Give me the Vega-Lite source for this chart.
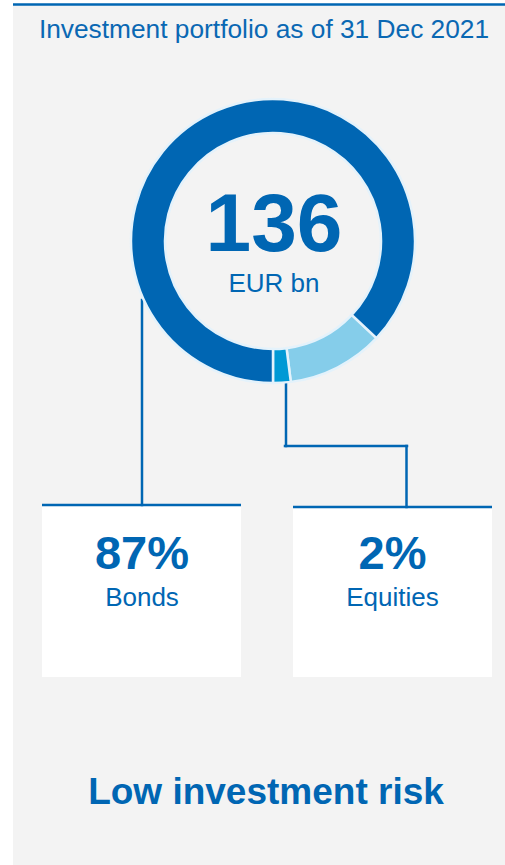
{
  "$schema": "https://vega.github.io/schema/vega-lite/v6.json",
  "width": 505,
  "height": 865,
  "padding": 0,
  "autosize": "none",
  "background": "#ffffff",
  "config": {"view": {"stroke": null}, "font": "Liberation Sans"},
  "datasets": {
    "panel": [{"x": 13, "x2": 505, "y": 5, "y2": 865}],
    "topline": [{"x": 13, "x2": 505, "y": 4.5}],
    "boxes": [
      {"category": "Bonds", "pct": "87%", "x": 42, "x2": 241, "y": 505, "y2": 677, "cx": 142, "py": 569, "ny": 606},
      {"category": "Equities", "pct": "2%", "x": 293, "x2": 492, "y": 507, "y2": 677, "cx": 392.5, "py": 569, "ny": 606}
    ],
    "connectors": [
      {"x": 142, "y": 300, "x2": 142, "y2": 505},
      {"x": 286, "y": 380, "x2": 286, "y2": 446},
      {"x": 285, "y": 446, "x2": 407, "y2": 446},
      {"x": 406.5, "y": 446, "x2": 406.5, "y2": 507}
    ],
    "segments": [
      {"segment": "Other", "share": 11, "rank": 1, "cx": 273, "cy": 241},
      {"segment": "Equities", "share": 2, "rank": 2, "cx": 273, "cy": 241},
      {"segment": "Bonds", "share": 87, "rank": 3, "cx": 273, "cy": 241}
    ],
    "title": [{"text": "Investment portfolio as of 31 Dec 2021", "x": 264, "y": 38}],
    "total": [{"value": "136", "unit": "EUR bn", "x": 274, "y": 251, "uy": 292}],
    "footer": [{"text": "Low investment risk", "x": 266, "y": 804}]
  },
  "layer": [
    {
      "data": {"name": "panel"},
      "mark": {"type": "rect", "fill": "#f3f3f3"},
      "encoding": {
        "x": {"field": "x", "type": "quantitative", "scale": {"domain": [0, 505], "nice": false, "zero": false}, "axis": null},
        "x2": {"field": "x2"},
        "y": {"field": "y", "type": "quantitative", "scale": {"domain": [0, 865], "nice": false, "zero": false, "reverse": true}, "axis": null},
        "y2": {"field": "y2"}
      }
    },
    {
      "data": {"name": "topline"},
      "mark": {"type": "rule", "stroke": "#0066b3", "strokeWidth": 2.5},
      "encoding": {
        "x": {"field": "x", "type": "quantitative"},
        "x2": {"field": "x2"},
        "y": {"field": "y", "type": "quantitative"}
      }
    },
    {
      "data": {"name": "boxes"},
      "mark": {"type": "rect", "fill": "#ffffff"},
      "encoding": {
        "x": {"field": "x", "type": "quantitative"},
        "x2": {"field": "x2"},
        "y": {"field": "y", "type": "quantitative"},
        "y2": {"field": "y2"}
      }
    },
    {
      "data": {"name": "connectors"},
      "mark": {"type": "rule", "stroke": "#0066b3", "strokeWidth": 2.5, "strokeCap": "square"},
      "encoding": {
        "x": {"field": "x", "type": "quantitative"},
        "x2": {"field": "x2"},
        "y": {"field": "y", "type": "quantitative"},
        "y2": {"field": "y2"}
      }
    },
    {
      "data": {"name": "boxes"},
      "mark": {"type": "rule", "stroke": "#0066b3", "strokeWidth": 2.5},
      "encoding": {
        "x": {"field": "x", "type": "quantitative"},
        "x2": {"field": "x2"},
        "y": {"field": "y", "type": "quantitative"}
      }
    },
    {
      "data": {"name": "segments"},
      "mark": {"type": "arc", "radius": 142, "radius2": 108, "stroke": "#e4f2fb", "strokeWidth": 2.5},
      "encoding": {
        "x": {"field": "cx", "type": "quantitative"},
        "y": {"field": "cy", "type": "quantitative"},
        "theta": {"field": "share", "type": "quantitative", "stack": true, "scale": {"range": [2.3248, 8.6080]}},
        "order": {"field": "rank", "type": "quantitative"},
        "color": {"field": "segment", "type": "nominal", "scale": {"domain": ["Other", "Equities", "Bonds"], "range": ["#85cdea", "#0099d5", "#0066b3"]}, "legend": null}
      }
    },
    {
      "data": {"name": "title"},
      "mark": {"type": "text", "fontSize": 26.3, "color": "#0a68b3", "align": "center", "baseline": "alphabetic"},
      "encoding": {
        "x": {"field": "x", "type": "quantitative"},
        "y": {"field": "y", "type": "quantitative"},
        "text": {"field": "text"}
      }
    },
    {
      "data": {"name": "total"},
      "mark": {"type": "text", "fontSize": 82, "fontWeight": "bold", "color": "#0066b3", "align": "center", "baseline": "alphabetic"},
      "encoding": {
        "x": {"field": "x", "type": "quantitative"},
        "y": {"field": "y", "type": "quantitative"},
        "text": {"field": "value"}
      }
    },
    {
      "data": {"name": "total"},
      "mark": {"type": "text", "fontSize": 26, "color": "#0066b3", "align": "center", "baseline": "alphabetic"},
      "encoding": {
        "x": {"field": "x", "type": "quantitative"},
        "y": {"field": "uy", "type": "quantitative"},
        "text": {"field": "unit"}
      }
    },
    {
      "data": {"name": "boxes"},
      "mark": {"type": "text", "fontSize": 47, "fontWeight": "bold", "color": "#0066b3", "align": "center", "baseline": "alphabetic"},
      "encoding": {
        "x": {"field": "cx", "type": "quantitative"},
        "y": {"field": "py", "type": "quantitative"},
        "text": {"field": "pct"}
      }
    },
    {
      "data": {"name": "boxes"},
      "mark": {"type": "text", "fontSize": 26, "color": "#0066b3", "align": "center", "baseline": "alphabetic"},
      "encoding": {
        "x": {"field": "cx", "type": "quantitative"},
        "y": {"field": "ny", "type": "quantitative"},
        "text": {"field": "category"}
      }
    },
    {
      "data": {"name": "footer"},
      "mark": {"type": "text", "fontSize": 37, "fontWeight": "bold", "color": "#0066b3", "align": "center", "baseline": "alphabetic"},
      "encoding": {
        "x": {"field": "x", "type": "quantitative"},
        "y": {"field": "y", "type": "quantitative"},
        "text": {"field": "text"}
      }
    }
  ]
}
